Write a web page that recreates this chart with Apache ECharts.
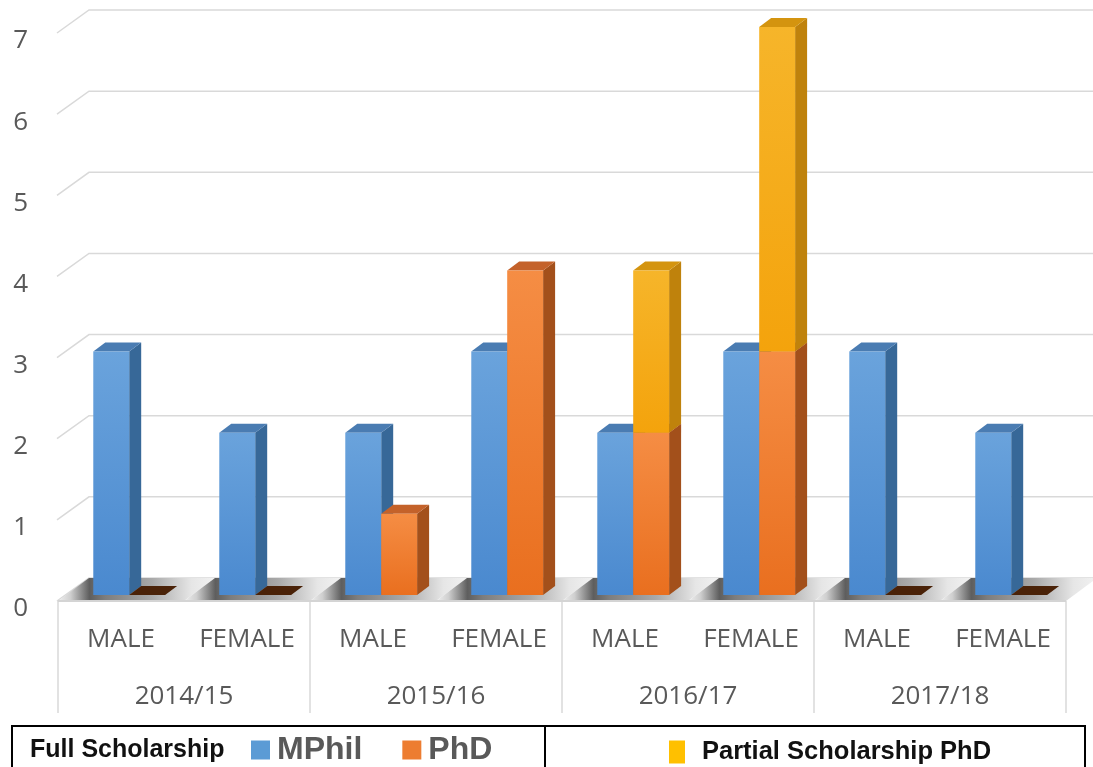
<!DOCTYPE html>
<html>
<head>
    <meta charset="utf-8" />
    <title>Scholarships</title>
    <script src="https://cdn.jsdelivr.net/npm/echarts@6/dist/echarts.min.js"></script>
    <style>
        html, body { margin: 0; padding: 0; background: #fff; }
        #main { width: 1093px; height: 767px; }
    </style>
</head>
<body>
    <div id="main"></div>
    <script type="text/javascript">
        // chart data
        var categories = ['MALE', 'FEMALE', 'MALE', 'FEMALE', 'MALE', 'FEMALE', 'MALE', 'FEMALE'];
        var years = ['2014/15', '2015/16', '2016/17', '2017/18'];
        var yTicks = [0, 1, 2, 3, 4, 5, 6, 7];
        var mphil = [3, 2, 2, 3, 2, 3, 3, 2];
        var phd = [0, 0, 1, 4, 2, 3, 0, 0];
        var partialPhd = [0, 0, 0, 0, 2, 4, 0, 0];

        var DX = 12, DY = 9;       // bar depth
        var WX = 31, WY = 17;      // wall depth
        var textGrey = '#595959';

        function grad(c1, c2) {
            return new echarts.graphic.LinearGradient(0, 0, 0, 1, [
                { offset: 0, color: c1 }, { offset: 1, color: c2 }
            ]);
        }

        var colBlue = { front: ['#6aa3dc', '#4a89cf'], side: '#376898', top: '#4a7cb2', zero: '#4a2208' };
        var colOrange = { front: ['#f58d44', '#e96f1f'], side: '#a3501b', top: '#c4622a', zero: '#4a2208' };
        var colYellow = { front: ['#f6b52a', '#f4a30c'], side: '#bf820c', top: '#d4940f', zero: null };

        // 3d-ish bar built from front / side / top faces
        function barRenderer(slot, col) {
            return function (params, api) {
                var idx = api.value(0), lo = api.value(1), hi = api.value(2);
                var cx = api.coord([idx, 0])[0];
                var bw = api.size([1, 0])[0];
                var w = bw * 0.285;
                var x0 = cx - bw * 0.22 + slot * w;
                var yLo = api.coord([idx, lo])[1];
                var yHi = api.coord([idx, hi])[1];
                if (hi <= lo) {
                    if (!col.zero || lo > 0) return null;
                    return {
                        type: 'polygon',
                        shape: { points: [[x0, yLo], [x0 + w, yLo], [x0 + w + DX, yLo - DY], [x0 + DX, yLo - DY]] },
                        style: { fill: col.zero }
                    };
                }
                return {
                    type: 'group',
                    children: [
                        {
                            type: 'polygon',
                            shape: { points: [[x0 + w, yHi], [x0 + w + DX, yHi - DY], [x0 + w + DX, yLo - DY], [x0 + w, yLo]] },
                            style: { fill: col.side }
                        },
                        {
                            type: 'polygon',
                            shape: { points: [[x0, yHi], [x0 + w, yHi], [x0 + w + DX, yHi - DY], [x0 + DX, yHi - DY]] },
                            style: { fill: col.top }
                        },
                        {
                            type: 'rect',
                            shape: { x: x0, y: yHi, width: w, height: yLo - yHi },
                            style: { fill: grad(col.front[0], col.front[1]) }
                        }
                    ]
                };
            };
        }

        // back wall grid lines
        function wallRenderer(params, api) {
            var y = api.coord([0, api.value(1)])[1];
            var cs = params.coordSys;
            return {
                type: 'polyline',
                shape: { points: [[cs.x - 1, y + 6], [cs.x + WX, y - WY], [cs.x + cs.width + WX, y - WY]] },
                style: { stroke: '#d9d9d9', lineWidth: 1.5, fill: null }
            };
        }

        // floor tiles under each category
        function floorRenderer(params, api) {
            var idx = api.value(0);
            var cx = api.coord([idx, 0])[0];
            var y0 = api.coord([idx, 0])[1];
            var bw = api.size([1, 0])[0];
            var l = cx - bw / 2, r = cx + bw / 2;
            return {
                type: 'group',
                children: [
                    {
                        type: 'polygon',
                        shape: { points: [[l, y0 + 6], [r, y0 + 6], [r + WX, y0 - WY], [l + WX, y0 - WY]] },
                        style: {
                            fill: new echarts.graphic.LinearGradient(0, 0, 1, 0, [
                                { offset: 0, color: '#efefef' },
                                { offset: 0.08, color: '#cfcfcf' },
                                { offset: 0.2, color: '#5e5e5e' },
                                { offset: 0.3, color: '#7d7d7d' },
                                { offset: 0.6, color: '#a9a9a9' },
                                { offset: 0.85, color: '#e6e6e6' },
                                { offset: 1, color: '#f2f2f2' }
                            ])
                        }
                    },
                    {
                        type: 'line',
                        shape: { x1: l, y1: y0 + 6, x2: r, y2: y0 + 6 },
                        style: { stroke: '#d4d4d4', lineWidth: 2 }
                    }
                ]
            };
        }

        var myChart = echarts.init(document.getElementById('main'));

        myChart.setOption({
            backgroundColor: '#ffffff',
            animation: false,
            grid: { left: 58, right: 27, top: 27, bottom: 172 },
            xAxis: [
                {
                    type: 'category',
                    data: categories,
                    axisLine: { show: false },
                    axisTick: { show: false },
                    axisLabel: {
                        interval: 0, margin: 32, fontSize: 26,
                        fontFamily: 'Open Sans', color: textGrey
                    }
                },
                {
                    type: 'category',
                    data: years,
                    position: 'bottom',
                    offset: 6,
                    axisLine: { show: false },
                    axisTick: { show: true, interval: 0, length: 112, lineStyle: { color: '#d9d9d9', width: 1.5 } },
                    axisLabel: {
                        interval: 0, margin: 83, fontSize: 26,
                        fontFamily: 'Open Sans', color: textGrey
                    }
                }
            ],
            yAxis: {
                type: 'value',
                min: 0,
                max: 7,
                interval: 1,
                axisLine: { show: false },
                axisTick: { show: false },
                splitLine: { show: false },
                axisLabel: {
                    margin: 30, fontSize: 26, fontFamily: 'Open Sans',
                    color: textGrey, verticalAlign: 'top', lineHeight: 28
                }
            },
            legend: [
                {
                    data: ['MPhil', 'PhD'],
                    left: 251,
                    top: 734,
                    padding: 0,
                    icon: 'rect',
                    itemWidth: 19,
                    itemHeight: 19,
                    itemGap: 40,
                    selectedMode: false,
                    textStyle: {
                        fontSize: 32, lineHeight: 32, fontWeight: 'bold',
                        fontFamily: 'Liberation Sans', color: textGrey,
                        padding: [0, 0, 0, 2]
                    }
                },
                {
                    data: ['Partial Scholarship PhD'],
                    left: 669,
                    top: 739,
                    padding: 0,
                    icon: 'rect',
                    itemWidth: 16,
                    itemHeight: 23,
                    selectedMode: false,
                    textStyle: {
                        fontSize: 25.5, lineHeight: 25, fontWeight: 'bold',
                        fontFamily: 'Liberation Sans', color: '#111',
                        padding: [0, 0, 0, 12]
                    }
                }
            ],
            graphic: [
                {
                    type: 'rect',
                    shape: { x: 12, y: 726, width: 1073, height: 60 },
                    style: { fill: null, stroke: '#000', lineWidth: 2 }
                },
                {
                    type: 'line',
                    shape: { x1: 545, y1: 726, x2: 545, y2: 767 },
                    style: { stroke: '#000', lineWidth: 2 }
                },
                {
                    type: 'text',
                    x: 30,
                    y: 750,
                    style: {
                        text: 'Full Scholarship',
                        font: 'bold 25px "Liberation Sans"',
                        fill: '#111',
                        verticalAlign: 'middle'
                    }
                }
            ],
            series: [
                {
                    name: 'wall',
                    type: 'custom',
                    renderItem: wallRenderer,
                    data: yTicks.map(function (v) { return [0, v]; }),
                    encode: { x: 0, y: 1 },
                    silent: true,
                    z: 1
                },
                {
                    name: 'floor',
                    type: 'custom',
                    renderItem: floorRenderer,
                    data: categories.map(function (c, i) { return [i, 0]; }),
                    encode: { x: 0, y: 1 },
                    silent: true,
                    z: 2
                },
                {
                    name: 'MPhil',
                    type: 'custom',
                    itemStyle: { color: '#5b9bd5' },
                    renderItem: barRenderer(0, colBlue),
                    data: mphil.map(function (v, i) { return [i, 0, v]; }),
                    encode: { x: 0, y: [1, 2] },
                    z: 3
                },
                {
                    name: 'PhD',
                    type: 'custom',
                    itemStyle: { color: '#ed7d31' },
                    renderItem: barRenderer(1, colOrange),
                    data: phd.map(function (v, i) { return [i, 0, v]; }),
                    encode: { x: 0, y: [1, 2] },
                    z: 3
                },
                {
                    name: 'Partial Scholarship PhD',
                    type: 'custom',
                    itemStyle: { color: '#ffc000' },
                    renderItem: barRenderer(1, colYellow),
                    data: partialPhd.map(function (v, i) { return [i, phd[i], phd[i] + v]; }),
                    encode: { x: 0, y: [1, 2] },
                    z: 3
                }
            ]
        });
    </script>
</body>
</html>
